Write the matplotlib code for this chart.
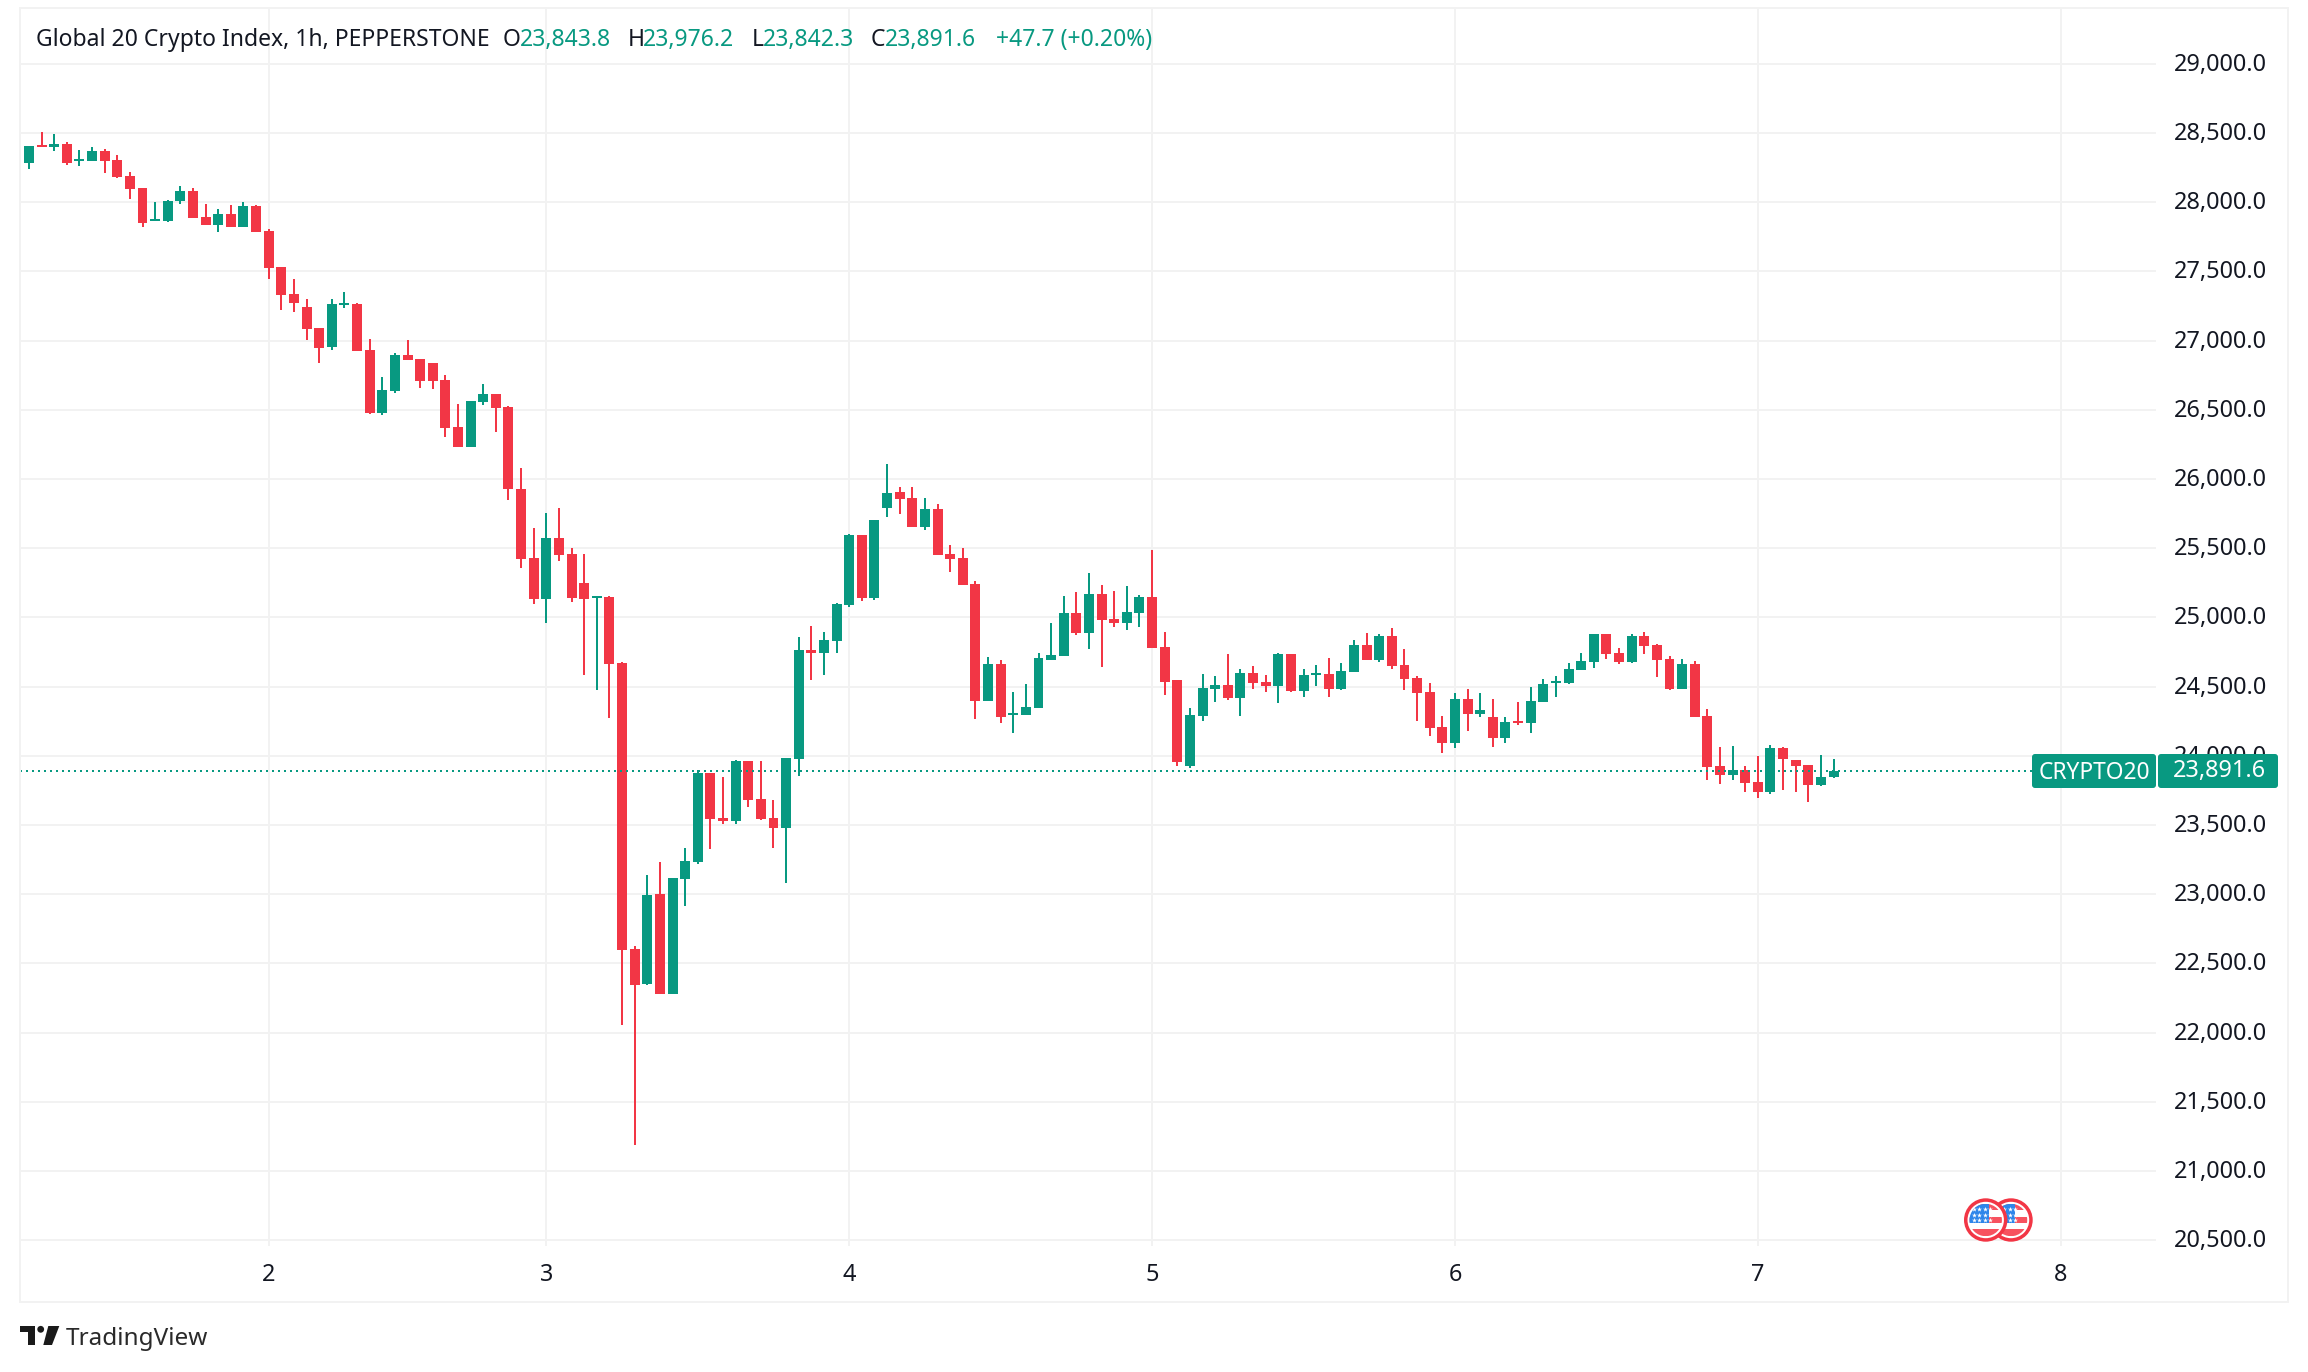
import numpy as np
import matplotlib
matplotlib.use("Agg")
import matplotlib.pyplot as plt
from matplotlib.patches import Circle, FancyBboxPatch, Polygon, Rectangle
from matplotlib.transforms import ScaledTranslation

plt.rcParams['font.family'] = ['Noto Sans', 'DejaVu Sans']

# Hourly candles
opens = [28247, 28283, 28413, 28399, 28420, 28297, 28297, 28370, 28305, 28189,
         28102, 27864, 27864, 28008, 28081, 27893, 27835, 27914, 27821, 27972,
         27792, 27532, 27337, 27243, 27091, 26954, 27257, 27264, 26932, 26477,
         26636, 26896, 26867, 26838, 26715, 26376, 26231, 26556, 26614, 26520,
         25928, 25429, 25132, 25574, 25458, 25248, 25142, 25148, 24671, 22603,
         22352, 23003, 22281, 23110, 23232, 23877, 23552, 23529, 23965, 23687,
         23552, 23478, 23977, 24764, 24742, 24829, 25090, 25596, 25142, 25791,
         25906, 25863, 25654, 25784, 25458, 25430, 25242, 24397, 24664, 24295,
         24295, 24346, 24693, 24722, 25032, 24888, 25170, 24989, 24960, 25032,
         25148, 24787, 24548, 23927, 24288, 24483, 24512, 24418, 24599, 24533,
         24504, 24735, 24468, 24584, 24591, 24483, 24605, 24800, 24692, 24865,
         24656, 24562, 24461, 24208, 24092, 24410, 24302, 24280, 24129, 24251,
         24237, 24389, 24526, 24526, 24620, 24678, 24880, 24743, 24678, 24865,
         24800, 24699, 24483, 24663, 24288, 23927, 23862, 23898, 23811, 23739,
         24057, 23970, 23934, 23790, 23843.8]
highs = [28290, 28406, 28507, 28492, 28435, 28377, 28399, 28384, 28341, 28218,
         28102, 28001, 28016, 28117, 28102, 27987, 27951, 27979, 28001, 27979,
         27806, 27532, 27445, 27300, 27091, 27300, 27351, 27272, 27011, 26737,
         26910, 27004, 26867, 26838, 26751, 26542, 26564, 26686, 26614, 26527,
         26080, 25645, 25754, 25790, 25503, 25458, 25151, 25154, 24677, 22626,
         23139, 23232, 23116, 23336, 23897, 23877, 23848, 23971, 23965, 23965,
         23681, 23984, 24858, 24938, 24896, 25103, 25603, 25596, 25703, 26109,
         25942, 25942, 25863, 25820, 25523, 25502, 25263, 24714, 24693, 24462,
         24519, 24743, 24960, 25155, 25184, 25321, 25235, 25191, 25227, 25162,
         25487, 24895, 24548, 24346, 24592, 24577, 24736, 24628, 24649, 24584,
         24743, 24735, 24627, 24656, 24707, 24670, 24837, 24887, 24880, 24923,
         24772, 24576, 24526, 24288, 24454, 24483, 24454, 24410, 24280, 24389,
         24497, 24555, 24576, 24670, 24743, 24880, 24880, 24779, 24880, 24894,
         24808, 24721, 24699, 24685, 24338, 24064, 24071, 23927, 23999, 24079,
         24064, 23970, 23934, 24006, 23976.2]
lows = [28247, 28240, 28399, 28370, 28268, 28261, 28297, 28211, 28175, 28023,
        27821, 27864, 27857, 27987, 27886, 27835, 27784, 27821, 27821, 27784,
        27445, 27221, 27207, 27004, 26838, 26932, 27235, 26925, 26470, 26462,
        26621, 26860, 26657, 26650, 26304, 26231, 26231, 26535, 26340, 25848,
        25358, 25096, 24961, 25409, 25113, 24584, 24477, 24274, 22055, 21188,
        22346, 22281, 22281, 22916, 23219, 23326, 23507, 23507, 23632, 23536,
        23336, 23081, 23855, 24548, 24584, 24742, 25077, 25119, 25125, 25726,
        25747, 25654, 25632, 25451, 25328, 25235, 24267, 24397, 24238, 24165,
        24295, 24346, 24693, 24722, 24873, 24772, 24642, 24931, 24909, 24931,
        24779, 24440, 23927, 23912, 24252, 24389, 24404, 24288, 24483, 24461,
        24381, 24461, 24425, 24504, 24425, 24475, 24605, 24692, 24678, 24627,
        24475, 24251, 24143, 24020, 24056, 24179, 24280, 24064, 24092, 24223,
        24165, 24389, 24425, 24519, 24620, 24634, 24699, 24663, 24673, 24735,
        24569, 24475, 24483, 24280, 23825, 23797, 23826, 23739, 23696, 23725,
        23753, 23739, 23667, 23782, 23842.3]
closes = [28290, 28406, 28399, 28420, 28283, 28312, 28370, 28297, 28182, 28095,
          27849, 27878, 28008, 28081, 27886, 27835, 27914, 27821, 27972, 27784,
          27524, 27329, 27272, 27084, 26946, 27264, 27272, 26925, 26477, 26643,
          26896, 26860, 26708, 26708, 26369, 26231, 26564, 26614, 26513, 25925,
          25422, 25132, 25574, 25451, 25142, 25132, 25151, 24664, 22597, 22346,
          22994, 22281, 23116, 23242, 23877, 23545, 23529, 23965, 23681, 23545,
          23478, 23984, 24764, 24742, 24838, 25096, 25596, 25142, 25703, 25899,
          25856, 25654, 25784, 25451, 25422, 25235, 24397, 24664, 24281, 24310,
          24353, 24707, 24729, 25032, 24888, 25170, 24982, 24960, 25039, 25148,
          24779, 24534, 23956, 24295, 24490, 24512, 24418, 24599, 24527, 24504,
          24735, 24468, 24584, 24598, 24483, 24613, 24800, 24692, 24865, 24649,
          24555, 24454, 24201, 24092, 24410, 24302, 24331, 24129, 24244, 24237,
          24396, 24519, 24540, 24627, 24685, 24880, 24735, 24678, 24865, 24793,
          24692, 24483, 24663, 24280, 23919, 23862, 23898, 23804, 23739, 24057,
          23977, 23927, 23790, 23847, 23891.6]

price_ticks = [20500, 21000, 21500, 22000, 22500, 23000, 23500, 24000, 24500,
               25000, 25500, 26000, 26500, 27000, 27500, 28000, 28500, 29000]
day_ticks = [20, 42, 66, 90, 114, 138, 162]
day_labels = ['2', '3', '4', '5', '6', '7', '8']

GREEN = '#089981'
RED = '#F23645'
GRID = '#f2f2f2'
INK = '#131722'

W, H = 2308, 1372
fig = plt.figure(figsize=(W / 100, H / 100), dpi=100, facecolor='white')

# Chart area: 20..2156 px across, 8..1246 px down
ax = fig.add_axes([20 / W, 1 - 1246 / H, 2136 / W, 1238 / H])
ax.set_xlim(0.293, 169.55)
ax.set_ylim(20458.6, 29403)
for side in ax.spines.values():
    side.set_visible(False)

ax.set_axisbelow(True)
ax.grid(True, color=GRID, linewidth=1.44)
ax.yaxis.tick_right()
ax.set_yticks(price_ticks)
ax.set_yticklabels([f'{p:,.1f}' for p in price_ticks])
ax.set_xticks(day_ticks)
ax.set_xticklabels(day_labels)
ax.tick_params(axis='y', length=0, pad=13, labelsize=16.9, labelcolor=INK)
ax.tick_params(axis='x', length=0, pad=12, labelsize=16.9, labelcolor=INK)
ax.get_xticklabels()[1].set_fontweight('bold')
# labels sit a bit higher than plain centring
lift = ScaledTranslation(0, 2 / 100, fig.dpi_scale_trans)
for label in ax.get_yticklabels():
    label.set_transform(label.get_transform() + lift)

# Candles
o = np.array(opens)
h = np.array(highs)
l = np.array(lows)
c = np.array(closes)
idx = np.arange(len(o))
colors = [GREEN if a >= b else RED for a, b in zip(c, o)]
ax.vlines(idx, l, h, colors=colors, linewidth=1.44, capstyle='butt', zorder=3)
ax.bar(idx, np.maximum(np.abs(c - o), 14), bottom=np.minimum(o, c), width=0.79,
       color=colors, linewidth=0, zorder=4)

# Last price line
ax.axhline(closes[-1], color=GREEN, linewidth=1.44, linestyle=(0, (1, 2)), zorder=5)

# Everything outside the axes goes on a pixel overlay
ov = fig.add_axes([0, 0, 1, 1], zorder=10)
ov.set_xlim(0, W)
ov.set_ylim(H, 0)
ov.axis('off')

# Outer frame
ov.add_patch(Rectangle((20, 8), 2268, 1294, fill=False, edgecolor=GRID, linewidth=1.44))

# Header line
head_y = 40
head_size = 16.5
ov.text(36, head_y, 'Global 20 Crypto Index, 1h, PEPPERSTONE', color=INK,
        fontsize=head_size, va='center', ha='left')
ohlc = [('O', 503, opens[-1], 520), ('H', 628, highs[-1], 643),
        ('L', 752, lows[-1], 763), ('C', 871, closes[-1], 885)]
for letter, x1, value, x2 in ohlc:
    ov.text(x1, head_y, letter, color=INK, fontsize=head_size, va='center', ha='left')
    ov.text(x2, head_y, f'{value:,.1f}', color=GREEN, fontsize=head_size, va='center', ha='left')
ov.text(996, head_y, '+47.7 (+0.20%)', color=GREEN, fontsize=head_size, va='center', ha='left')

# Price tags on the right
for x0, x1 in [(2032, 2156), (2158, 2278)]:
    ov.add_patch(FancyBboxPatch((x0 + 3, 757), x1 - x0 - 6, 28,
                                boxstyle='round,pad=3,rounding_size=3',
                                facecolor=GREEN, edgecolor='none'))
ov.text(2094, 773, 'CRYPTO20', color='white', fontsize=16.4, va='center', ha='center')
ov.text(2219, 771, f'{closes[-1]:,.1f}', color='white', fontsize=16.9, va='center', ha='center')


# Flag event markers
def flag_icon(cx, cy):
    ov.add_patch(Circle((cx, cy), 21.7, facecolor=RED, edgecolor='none'))
    ov.add_patch(Circle((cx, cy), 18.2, facecolor='white', edgecolor='none'))
    disc = Circle((cx, cy), 16.2, transform=ov.transData)
    parts = []
    for top, bottom in [(-16.2, -10), (-3.4, 3), (9.2, 16.2)]:
        parts.append(Rectangle((cx - 17, cy + top), 34, bottom - top, facecolor='#F7525F', edgecolor='none'))
    parts.append(Rectangle((cx - 17, cy - 16.2), 20.5, 19.2, facecolor='#2E86EA', edgecolor='none'))
    for part in parts:
        ov.add_patch(part)
        part.set_clip_path(disc)
    sx = [cx - 12 + 5.4 * i for i in range(4)]
    sy = [cy - 11, cy - 5.5, cy - 0.5]
    stars = ov.scatter(np.repeat(sx, 3), np.tile(sy, 4), marker='*', s=14, color='white', linewidth=0)
    stars.set_clip_path(disc)


flag_icon(2011, 1220)
flag_icon(1985.7, 1220)

# TradingView logo
ov.add_patch(Polygon([(20, 1326), (35, 1326), (35, 1345), (28, 1345), (28, 1332), (20, 1332)],
                     facecolor='#1a1a1a', edgecolor='none'))
ov.add_patch(Circle((40.7, 1329.3), 3.4, facecolor='#1a1a1a', edgecolor='none'))
ov.add_patch(Polygon([(48.3, 1326), (59.3, 1326), (52, 1345), (43.3, 1345)],
                     facecolor='#1a1a1a', edgecolor='none'))
ov.text(66, 1339, 'TradingView', color='#2a2a2a', fontsize=17.5, va='center', ha='left')

fig.savefig('out.png', dpi=100, facecolor='white')
